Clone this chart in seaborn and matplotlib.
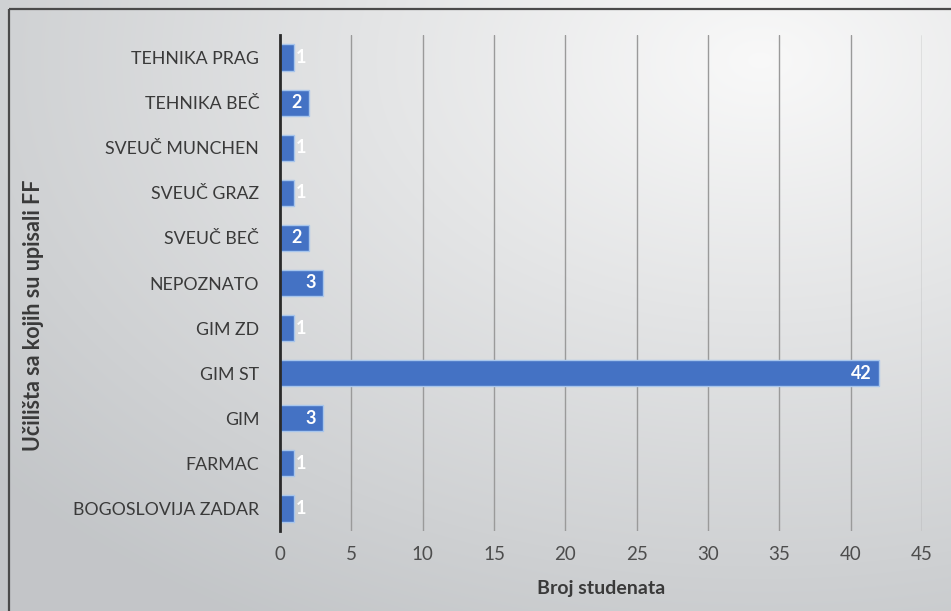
import numpy as np
import pandas as pd
import matplotlib
matplotlib.use("Agg")
import matplotlib.pyplot as plt
import seaborn as sns
from matplotlib.patches import Rectangle

categories = ["TEHNIKA PRAG", "TEHNIKA BEČ", "SVEUČ MUNCHEN", "SVEUČ GRAZ", "SVEUČ BEČ",
              "NEPOZNATO", "GIM ZD", "GIM ST", "GIM", "FARMAC", "BOGOSLOVIJA ZADAR"]
values = [1, 2, 1, 1, 2, 3, 1, 42, 3, 1, 1]
x_ticks = [0, 5, 10, 15, 20, 25, 30, 35, 40, 45]
x_label = "Broj studenata"
y_label = "Učilišta sa kojih su upisali FF"

df = pd.DataFrame({"cat": categories, "val": values})

sns.set_theme(style="white")
plt.rcParams['font.family'] = ['Lato', 'DejaVu Sans']

W, H = 951, 611
fig = plt.figure(figsize=(W / 100, H / 100), dpi=100)

# background gradient
bg = fig.add_axes([0, 0, 1, 1], zorder=-10)
yy, xx = np.mgrid[0:H, 0:W]
d = np.sqrt(((xx - 760) / 950.0) ** 2 + ((yy - 60) / 620.0) ** 2)
d = np.clip(d / 1.05, 0, 1)
top = np.array([0.975, 0.975, 0.975])
bot = np.array([0.765, 0.775, 0.785])
img = top[None, None, :] * (1 - d[..., None]) + bot[None, None, :] * d[..., None]
bg.imshow(img, aspect='auto', extent=[0, W, H, 0])
bg.set_xlim(0, W)
bg.set_ylim(H, 0)
bg.axis('off')
bg.add_patch(Rectangle((8.5, 9), W, H, fill=False, edgecolor='#4a4a4a', linewidth=1.6))

ax = fig.add_axes([280 / W, 1 - 531 / H, (922 - 280) / W, (531 - 35) / H])
ax.patch.set_alpha(0)
sns.barplot(data=df, y="cat", x="val", orient="h", color="#4472c4", width=0.58,
            edgecolor="#a8c6ec", linewidth=1.0, ax=ax, saturation=1)
ax.set_xlim(0, 45)
ax.set_ylim(10.5, -0.5)
ax.set_xticks(x_ticks)
ax.set_xticklabels([str(t) for t in x_ticks], color="#4d4d4d", fontsize=13.5)
ax.tick_params(axis='x', length=0, pad=11)
ax.tick_params(axis='y', length=0, pad=15, labelsize=12.8, labelcolor="#3a3a3a")
for t in x_ticks[1:]:
    ax.axvline(t, color="#9a9a9a", linewidth=1.0, zorder=0)
for s in ["top", "right", "bottom"]:
    ax.spines[s].set_visible(False)
ax.spines["left"].set_color("#2a2a2a")
ax.spines["left"].set_linewidth(2.0)
ax.spines["left"].set_zorder(5)

for i, v in enumerate(values):
    if v >= 2:
        ax.annotate(str(v), (v, i), xytext=(-7, 0), textcoords='offset pixels',
                    ha='right', va='center', color='white', fontsize=13, fontweight='bold')
    else:
        ax.annotate(str(v), (v, i), xytext=(2, 0), textcoords='offset pixels',
                    ha='left', va='center', color='white', fontsize=13, fontweight='bold')

ax.set_xlabel(x_label, fontsize=14, fontweight='bold', color="#3a3a3a", labelpad=12)
ax.set_ylabel("")
fig.text(34 / W, 1 - 315 / H, y_label, rotation=90, ha='center', va='center',
         fontsize=15.5, fontweight='bold', color="#3a3a3a")

fig.savefig("out.png", dpi=100)
